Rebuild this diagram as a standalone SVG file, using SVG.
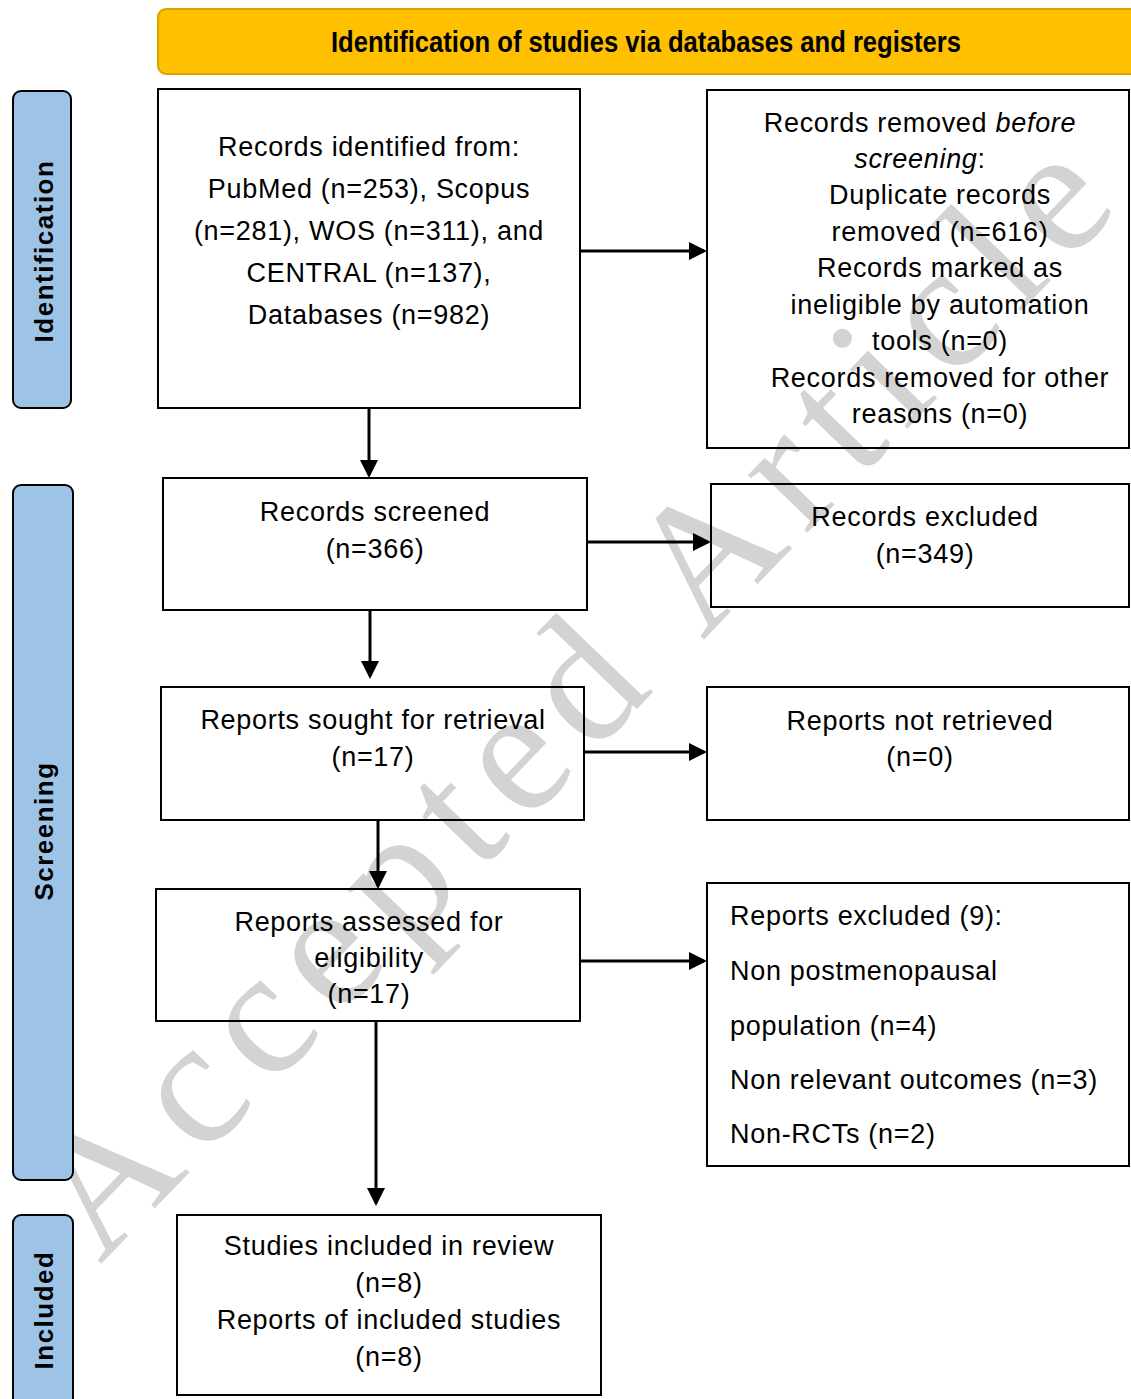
<svg xmlns="http://www.w3.org/2000/svg" width="1131" height="1399" viewBox="0 0 1131 1399">
<style>
.box{fill:none;stroke:#000;stroke-width:2}
.side{fill:#9DC3E6;stroke:#000;stroke-width:2}
.t{font-family:"Liberation Sans",Arial,sans-serif;font-size:27px;letter-spacing:0.7px;fill:#000;text-anchor:middle}
.tl{font-family:"Liberation Sans",Arial,sans-serif;font-size:27px;letter-spacing:0.7px;fill:#000}
.side-t{font-family:"Liberation Sans",Arial,sans-serif;font-size:26px;letter-spacing:1.5px;font-weight:bold;fill:#000;text-anchor:middle}
.hdr{font-family:"Liberation Sans",Arial,sans-serif;font-size:30px;font-weight:bold;fill:#000;text-anchor:middle}
.wm{font-family:"Liberation Serif","Times New Roman",serif;font-size:180px;letter-spacing:17px;fill:#d3d3d3}
.ln{stroke:#000;stroke-width:3;fill:none}
</style>
<defs>
<marker id="ah" markerWidth="6" markerHeight="6" refX="5" refY="3" orient="auto" markerUnits="strokeWidth">
<path d="M0,0 L6,3 L0,6 z" fill="#000"/>
</marker>
</defs>
<rect width="1131" height="1399" fill="#fff"/>

<text class="wm" transform="translate(100,1265) rotate(-46)">Accepted Article</text>

<g id="header">
<rect x="158" y="9" width="980" height="65" rx="8" fill="#FFC000" stroke="#D9A400" stroke-width="2"/>
<text class="hdr" x="646" y="52" textLength="630" lengthAdjust="spacingAndGlyphs">Identification of studies via databases and registers</text>
</g>

<g id="side-identification">
<rect class="side" x="13" y="91" width="58" height="317" rx="8"/>
<text class="side-t" transform="translate(53,251) rotate(-90)">Identification</text>
</g>
<g id="side-screening">
<rect class="side" x="13" y="485" width="60" height="695" rx="8"/>
<text class="side-t" transform="translate(53,831) rotate(-90)">Screening</text>
</g>
<g id="side-included">
<rect class="side" x="13" y="1215" width="60" height="200" rx="8"/>
<text class="side-t" transform="translate(53,1310) rotate(-90)">Included</text>
</g>

<g id="records-identified">
<rect class="box" x="158" y="89" width="422" height="319"/>
<text class="t" x="369" y="156">Records identified from:</text>
<text class="t" x="369" y="198">PubMed (n=253), Scopus</text>
<text class="t" x="369" y="240">(n=281), WOS (n=311), and</text>
<text class="t" x="369" y="282">CENTRAL (n=137),</text>
<text class="t" x="369" y="324">Databases (n=982)</text>
</g>

<g id="records-removed">
<rect class="box" x="707" y="90" width="422" height="358"/>
<text class="t" x="920" y="132">Records removed <tspan font-style="italic">before</tspan></text>
<text class="t" x="920" y="168"><tspan font-style="italic">screening</tspan>:</text>
<text class="t" x="940" y="204">Duplicate records</text>
<text class="t" x="940" y="241">removed (n=616)</text>
<text class="t" x="940" y="277">Records marked as</text>
<text class="t" x="940" y="314">ineligible by automation</text>
<text class="t" x="940" y="350">tools (n=0)</text>
<text class="t" x="940" y="387">Records removed for other</text>
<text class="t" x="940" y="423">reasons (n=0)</text>
</g>

<g id="records-screened">
<rect class="box" x="163" y="478" width="424" height="132"/>
<text class="t" x="375" y="521">Records screened</text>
<text class="t" x="375" y="558">(n=366)</text>
</g>

<g id="records-excluded">
<rect class="box" x="711" y="484" width="418" height="123"/>
<text class="t" x="925" y="526">Records excluded</text>
<text class="t" x="925" y="563">(n=349)</text>
</g>

<g id="reports-sought">
<rect class="box" x="161" y="687" width="423" height="133"/>
<text class="t" x="373" y="729">Reports sought for retrieval</text>
<text class="t" x="373" y="766">(n=17)</text>
</g>

<g id="reports-not-retrieved">
<rect class="box" x="707" y="687" width="422" height="133"/>
<text class="t" x="920" y="730">Reports not retrieved</text>
<text class="t" x="920" y="766">(n=0)</text>
</g>

<g id="reports-assessed">
<rect class="box" x="156" y="889" width="424" height="132"/>
<text class="t" x="369" y="931">Reports assessed for</text>
<text class="t" x="369" y="967">eligibility</text>
<text class="t" x="369" y="1003">(n=17)</text>
</g>

<g id="reports-excluded">
<rect class="box" x="707" y="883" width="422" height="283"/>
<text class="tl" x="730" y="925">Reports excluded (9):</text>
<text class="tl" x="730" y="980">Non postmenopausal</text>
<text class="tl" x="730" y="1035">population (n=4)</text>
<text class="tl" x="730" y="1089">Non relevant outcomes (n=3)</text>
<text class="tl" x="730" y="1143">Non-RCTs (n=2)</text>
</g>

<g id="studies-included">
<rect class="box" x="177" y="1215" width="424" height="180"/>
<text class="t" x="389" y="1255">Studies included in review</text>
<text class="t" x="389" y="1292">(n=8)</text>
<text class="t" x="389" y="1329">Reports of included studies</text>
<text class="t" x="389" y="1366">(n=8)</text>
</g>

<g id="connectors">
<line class="ln" x1="580" y1="251" x2="704" y2="251" marker-end="url(#ah)"/>
<line class="ln" x1="369" y1="408" x2="369" y2="475" marker-end="url(#ah)"/>
<line class="ln" x1="587" y1="542" x2="708" y2="542" marker-end="url(#ah)"/>
<line class="ln" x1="370" y1="610" x2="370" y2="676" marker-end="url(#ah)"/>
<line class="ln" x1="584" y1="752" x2="704" y2="752" marker-end="url(#ah)"/>
<line class="ln" x1="378" y1="820" x2="378" y2="886" marker-end="url(#ah)"/>
<line class="ln" x1="580" y1="961" x2="704" y2="961" marker-end="url(#ah)"/>
<line class="ln" x1="376" y1="1021" x2="376" y2="1203" marker-end="url(#ah)"/>
</g>
</svg>
